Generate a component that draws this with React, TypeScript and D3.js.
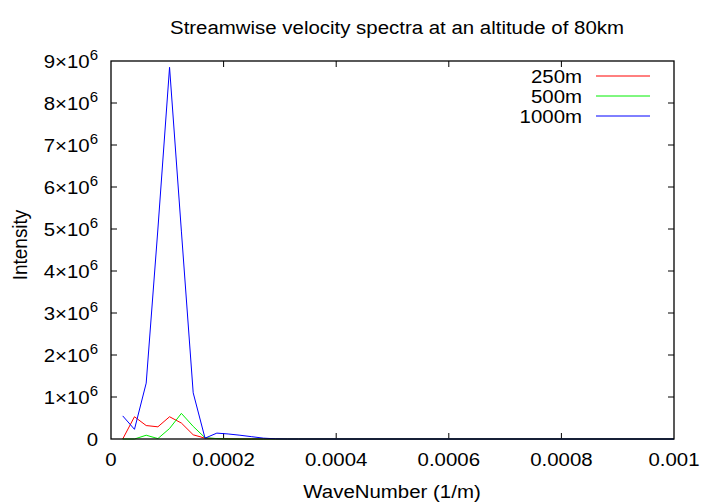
import React from 'react';
import * as d3 from 'd3';

// Data
const waveNumbers = [0.0000208, 0.0000417, 0.0000625, 0.0000833, 0.000104, 0.000125, 0.000146, 0.000167, 0.000188, 0.000208, 0.000229, 0.00025, 0.000271, 0.000292, 0.000313, 0.000333, 0.001];
const spec250 = [0, 530000, 320000, 290000, 530000, 380000, 100000, 20000, 10000, 5000, 0, 0, 0, 0, 0, 0, 0];
const spec500 = [0, 0, 90000, 10000, 250000, 610000, 300000, 30000, 10000, 0, 0, 0, 0, 0, 0, 0, 0];
const spec1000 = [550000, 230000, 1330000, 5000000, 8850000, 4950000, 1100000, 20000, 140000, 120000, 90000, 55000, 20000, 5000, 0, 0, 0];
const seriesNames = ['250m', '500m', '1000m'];
const seriesColors = ['#ff0000', '#00ee00', '#0000ff'];
const xTicks = [0, 0.0002, 0.0004, 0.0006, 0.0008, 0.001];
const xTickLabels = ['0', '0.0002', '0.0004', '0.0006', '0.0008', '0.001'];
const yTicks = [0, 1e6, 2e6, 3e6, 4e6, 5e6, 6e6, 7e6, 8e6, 9e6];
const yTickMantissas = ['0', '1', '2', '3', '4', '5', '6', '7', '8', '9'];

const W = 720;
const H = 504;
const L = 111, R = 674, T = 61, B = 439;
const FONT = "'Liberation Sans', Arial, Helvetica, sans-serif";
const FS = 19;
const SX = 1.075;

export default function App() {
  const x = d3.scaleLinear().domain([0, 0.001]).range([L, R]);
  const y = d3.scaleLinear().domain([0, 9e6]).range([B, T]);
  const series = [spec250, spec500, spec1000];
  const line = d3
    .line<number>()
    .x((_, i) => x(waveNumbers[i]))
    .y((d) => y(d));
  const tickLen = 6;

  return (
    <svg
      width={W}
      height={H}
      style={{ position: 'absolute', left: 0, top: 0, background: '#fff' }}
      fontFamily={FONT}
    >
      <rect x={0} y={0} width={W} height={H} fill="#fff" />
      {/* ticks */}
      {yTicks.map((t, i) => (
        <g key={'yt' + i}>
          {i > 0 && i < yTicks.length - 1 && (
            <>
              <line x1={L} x2={L + tickLen} y1={y(t)} y2={y(t)} stroke="#000" />
              <line x1={R} x2={R - tickLen} y1={y(t)} y2={y(t)} stroke="#000" />
            </>
          )}
          <text
            transform={`translate(${98},${y(t) + 7}) scale(${SX},1)`}
            textAnchor="end"
            fontSize={FS}
            fill="#000"
          >
            {t === 0 ? (
              '0'
            ) : (
              <>
                {yTickMantissas[i]}×10
                <tspan dy={-8} fontSize={14}>6</tspan>
              </>
            )}
          </text>
        </g>
      ))}
      {xTicks.map((t, i) => (
        <g key={'xt' + i}>
          {i > 0 && i < xTicks.length - 1 && (
            <>
              <line x1={x(t)} x2={x(t)} y1={B} y2={B - tickLen} stroke="#000" />
              <line x1={x(t)} x2={x(t)} y1={T} y2={T + tickLen} stroke="#000" />
            </>
          )}
          <text
            transform={`translate(${x(t)},${466}) scale(${SX},1)`}
            textAnchor="middle"
            fontSize={FS}
            fill="#000"
          >
            {xTickLabels[i]}
          </text>
        </g>
      ))}
      {/* series */}
      <g clipPath="url(#clip)">
        {series.map((s, i) => (
          <path key={'s' + i} d={line(s) || ''} fill="none" stroke={seriesColors[i]} strokeWidth={1} />
        ))}
      </g>
      <defs>
        <clipPath id="clip">
          <rect x={L} y={T} width={R - L} height={B - T + 1} />
        </clipPath>
      </defs>
      {/* border */}
      <rect x={L} y={T} width={R - L} height={B - T} fill="none" stroke="#000" strokeWidth={1.3} />
      {/* legend */}
      {seriesNames.map((n, i) => (
        <g key={'lg' + i}>
          <text
            transform={`translate(${582},${83 + i * 20}) scale(${SX},1)`}
            textAnchor="end"
            fontSize={FS}
            fill="#000"
          >
            {n}
          </text>
          <line x1={596} x2={650} y1={76 + i * 20} y2={76 + i * 20} stroke={seriesColors[i]} strokeWidth={1} />
        </g>
      ))}
      {/* title & labels */}
      <text
        transform={`translate(${397},${34}) scale(${SX},1)`}
        textAnchor="middle"
        fontSize={FS}
        fill="#000"
      >
        Streamwise velocity spectra at an altitude of 80km
      </text>
      <text
        transform={`translate(${392},${498}) scale(${SX},1)`}
        textAnchor="middle"
        fontSize={FS}
        fill="#000"
      >
        WaveNumber (1/m)
      </text>
      <text
        transform={`translate(${27},${245}) rotate(-90) scale(1,${SX})`}
        textAnchor="middle"
        fontSize={FS}
        fill="#000"
      >
        Intensity
      </text>
    </svg>
  );
}
